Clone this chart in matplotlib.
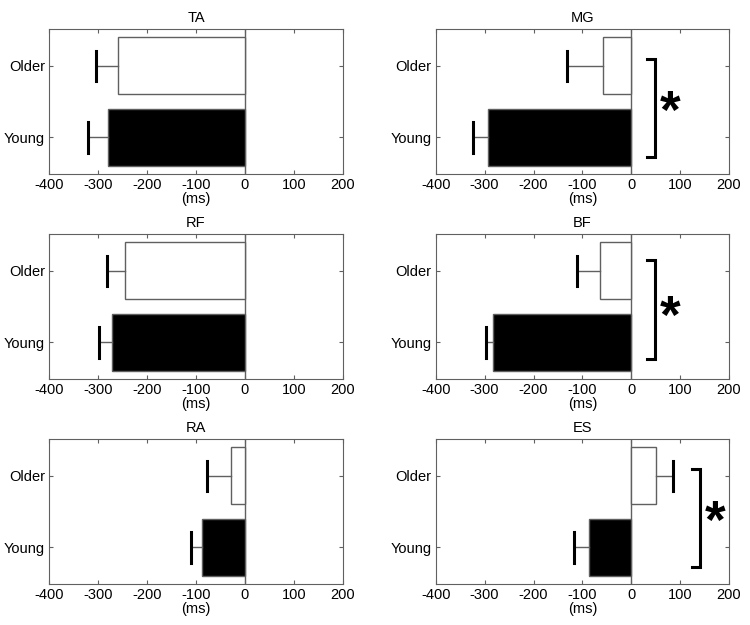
import numpy as np
import matplotlib
matplotlib.use('Agg')
import matplotlib.pyplot as plt

plt.rcParams['font.family'] = ['Liberation Sans', 'DejaVu Sans']
plt.rcParams['font.size'] = 10
plt.rcParams['axes.unicode_minus'] = False

# onset latency relative to perturbation (ms)
muscles = ['TA', 'MG', 'RF', 'BF', 'RA', 'ES']
groups = ['Young', 'Older']
young_mean = [-280, -293, -271, -282, -87, -87]
young_err = [40, 31, 28, 16, 24, 30]
older_mean = [-260, -58, -246, -63, -29, 50]
older_err = [45, 73, 37, 47, 48, 36]
significant = [False, True, False, True, False, True]
bracket_x = [0, 48, 0, 48, 0, 140]
xticks = [-400, -300, -200, -100, 0, 100, 200]

frame = '#606060'

fig = plt.figure(figsize=(7.5, 6.25), dpi=100)
lefts = [0.0658, 0.581]
bottoms = [0.7216, 0.3936, 0.0656]
w, h = 0.391, 0.2315

for k, m in enumerate(muscles):
    ax = fig.add_axes([lefts[k % 2], bottoms[k // 2], w, h])
    means = [young_mean[k], older_mean[k]]
    errs = [young_err[k], older_err[k]]
    ypos = np.array([1, 2])
    ax.barh(ypos, means, height=0.8, color=['black', 'white'],
            edgecolor=frame, linewidth=1, zorder=2)
    # one-sided error bars
    for y, v, e in zip(ypos, means, errs):
        end = v + np.sign(v) * e
        ax.plot([v, end], [y, y], color=frame, lw=1, zorder=3)
        ax.plot([end, end], [y - 0.21, y + 0.21], color='black', lw=2.2, zorder=3)
    ax.axvline(0, color=frame, lw=1, zorder=1)

    if significant[k]:
        bx = bracket_x[k]
        top = 2.09 if m != 'BF' else 2.15
        bot = 0.73 if m != 'BF' else 0.77
        ax.plot([bx - 15, bx, bx, bx - 15], [top, top, bot, bot],
                color='black', lw=2.2, solid_joinstyle='miter', zorder=4)
        ax.text(bx + 31, 1.33, '*', fontsize=38, fontweight='bold',
                ha='center', va='center')

    ax.set_xlim(-400, 200)
    ax.set_ylim(0.49, 2.51)
    ax.set_xticks(xticks)
    ax.set_yticks(ypos)
    ax.set_yticklabels(groups)
    ax.tick_params(direction='in', top=True, right=True, length=3,
                   color=frame, labelsize=10.5, pad=3)
    for s in ax.spines.values():
        s.set_color(frame)
    ax.set_title(m, fontsize=10.5, pad=5)
    ax.set_xlabel('(ms)', fontsize=10.5, labelpad=0)

fig.savefig('out.png', dpi=100)
